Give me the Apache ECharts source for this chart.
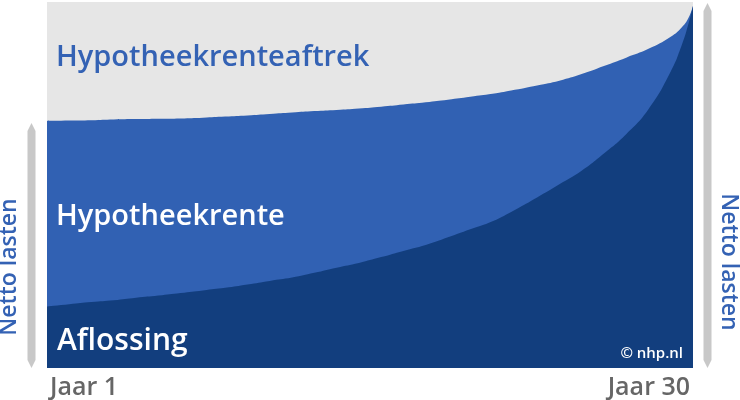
<!DOCTYPE html>
<html>
<head>
<meta charset="utf-8">
<script src="https://cdn.jsdelivr.net/npm/echarts@6/dist/echarts.min.js"></script>
<style>html,body{margin:0;padding:0;background:#fff}#c{width:740px;height:400px}</style>
</head>
<body>
<div id="c"></div>
<script>
// Years of the mortgage (a few extra read points near the end where the curves bend sharply)
const years = [1,2,3,4,5,6,7,8,9,10,11,12,13,14,15,16,17,18,19,20,21,22,23,24,25,26,27,28,29,29.5,29.8,30];
// Share of the gross monthly cost (%)
const aflossing = [16.8,17.4,18.0,18.5,19.2,19.8,20.5,21.2,21.9,22.8,23.8,24.7,26.0,27.4,28.7,30.3,32.0,33.6,35.7,37.9,40.1,43.2,46.6,50.2,53.9,58.6,63.9,70.7,81.0,88.3,94.1,98.9];
const hypotheekrente = [50.7,50.2,49.7,49.4,48.8,48.3,47.7,47.2,46.8,46.2,45.6,45.1,44.2,43.1,42.2,41.1,40.0,39.0,37.6,36.2,34.8,32.8,30.6,28.3,26.4,23.9,20.9,16.5,9.5,4.8,1.6,0];
const hypotheekrenteaftrek = [32.5,32.4,32.3,32.1,32.0,31.9,31.8,31.6,31.3,31.0,30.6,30.2,29.8,29.5,29.1,28.6,28.0,27.4,26.7,25.9,25.1,24.0,22.8,21.5,19.7,17.5,15.2,12.8,9.5,6.9,4.3,1.1];
const xLabels = {1: 'Jaar 1', 30: 'Jaar 30'};
const seriesNames = ['Aflossing', 'Hypotheekrente', 'Hypotheekrenteaftrek'];

const FONT = '"Open Sans", "Noto Sans", sans-serif';
const chart = echarts.init(document.getElementById('c'), null, {renderer: 'canvas'});

// cumulative tops of each layer (stacked by hand)
const top1 = aflossing.slice();
const top2 = aflossing.map((v, i) => v + hypotheekrente[i]);
const top3 = top2.map((v, i) => v + hypotheekrenteaftrek[i]);

function area(name, arr, color, z) {
  return {
    name, type: 'line', data: years.map((y, i) => [y, arr[i]]), z,
    smooth: 0.5, symbol: 'none', showSymbol: false,
    lineStyle: {width: 0}, areaStyle: {color, opacity: 1, origin: 'start'}, itemStyle: {color},
    emphasis: {disabled: true}, silent: true
  };
}

chart.setOption({
  animation: false,
  grid: {left: 47, right: 47, top: 2, bottom: 30},
  xAxis: {
    type: 'value', min: 1, max: 30,
    axisLine: {show: false}, axisTick: {show: false}, splitLine: {show: false},
    axisLabel: {
      customValues: [1, 30],
      formatter: v => xLabels[v] || '',
      alignMinLabel: 'left', alignMaxLabel: 'right',
      padding: [0, 3, 0, 3],
      color: '#666666', fontSize: 25, fontWeight: 600, fontFamily: FONT, margin: 7
    }
  },
  yAxis: {type: 'value', min: 0, max: 100, show: false},
  series: [
    area(seriesNames[2], top3, '#e6e6e6', 2),
    area(seriesNames[1], top2, '#3161b3', 3),
    area(seriesNames[0], top1, '#123e7e', 4)
  ]
});

// decorations (labels and the "Netto lasten" arrows), placed via the axes
const bottom = chart.convertToPixel({gridIndex: 0}, [1, 0])[1];
const topAll = chart.convertToPixel({gridIndex: 0}, [1, 100])[1];
const netStart = chart.convertToPixel({gridIndex: 0}, [1, top2[0]])[1];

function arrow(cx, y1, y2) {
  const w = 8, h = 8;
  return {type: 'polygon', silent: true, z: 100, shape: {points: [
    [cx, y1], [cx + w/2, y1 + h], [cx + w/2, y2 - h], [cx, y2], [cx - w/2, y2 - h], [cx - w/2, y1 + h]
  ]}, style: {fill: '#c8c8c8'}};
}
function txt(text, x, y, fill, size) {
  return {type: 'text', silent: true, z: 100, x, y, style: {
    text, fill, fontSize: size, fontWeight: 600, fontFamily: FONT, align: 'left', verticalAlign: 'middle'
  }};
}

chart.setOption({graphic: [
  arrow(31.5, netStart + 2, bottom),
  arrow(707.5, topAll + 1, bottom),
  txt('Hypotheekrenteaftrek', 56, 58, '#3462b4', 29),
  txt('Hypotheekrente', 56, 217, '#ffffff', 29),
  txt('Aflossing', 57, 341, '#ffffff', 30),
  {type: 'text', silent: true, z: 100, x: 683, y: 354, style: {text: '© nhp.nl', fill: '#ffffff', fontSize: 15, fontWeight: 600, fontFamily: FONT, align: 'right', verticalAlign: 'middle'}},
  {type: 'text', silent: true, z: 100, x: 9, y: 267, rotation: Math.PI / 2, style: {text: 'Netto lasten', fill: '#3462b4', fontSize: 23, fontWeight: 600, fontFamily: FONT, align: 'center', verticalAlign: 'middle'}},
  {type: 'text', silent: true, z: 100, x: 729, y: 262, rotation: -Math.PI / 2, style: {text: 'Netto lasten', fill: '#3462b4', fontSize: 23, fontWeight: 600, fontFamily: FONT, align: 'center', verticalAlign: 'middle'}}
]});
</script>
</body>
</html>
